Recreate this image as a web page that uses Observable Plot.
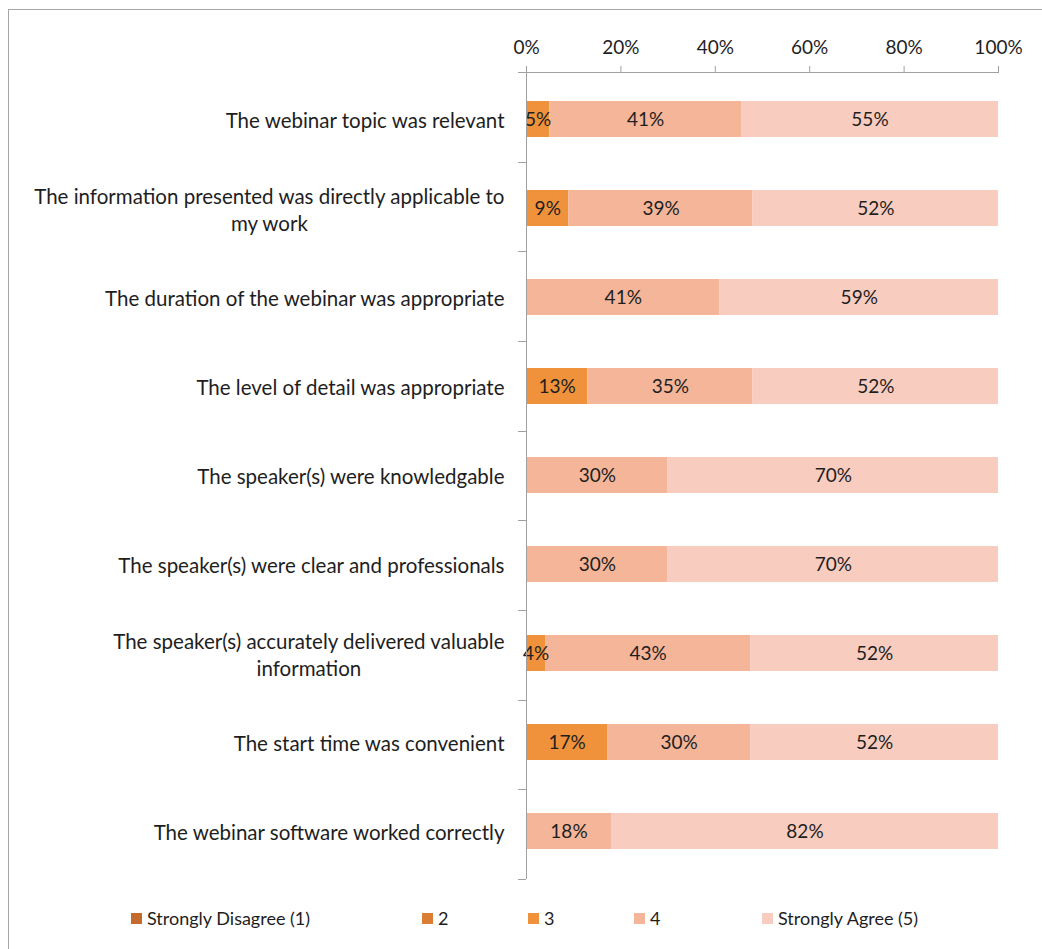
<!DOCTYPE html>
<html><head><meta charset="utf-8">
<script src="https://cdn.jsdelivr.net/npm/d3@7"></script>
<script src="https://cdn.jsdelivr.net/npm/@observablehq/plot@0.6"></script>
<style>
body{margin:0;background:#fff;font-family:Lato,sans-serif;width:1042px;height:949px;overflow:hidden;position:relative}
#frame{position:absolute;left:8px;top:9px;width:1100px;height:1000px;border-left:1px solid #a6a6a6;border-top:1px solid #a6a6a6}
#chart{position:absolute;left:0;top:0}
#legend{position:absolute;top:906px;left:0;width:1042px;height:24px;font-size:18px;color:#1e1e1e}
.item{position:absolute;top:0;display:flex;align-items:center;height:24px}
.sw{width:11px;height:11px;margin-right:5px}
</style></head><body>
<div id="frame"></div><div id="chart"></div><div id="legend"></div>
<script>
const statements = [
  "The webinar topic was relevant",
  "The information presented was directly applicable to\nmy work",
  "The duration of the webinar was appropriate",
  "The level of detail was appropriate",
  "The speaker(s) were knowledgable",
  "The speaker(s) were clear and professionals",
  "The speaker(s) accurately delivered valuable\ninformation",
  "The start time was convenient",
  "The webinar software worked correctly"
];
const levels = ["Strongly Disagree (1)", "2", "3", "4", "Strongly Agree (5)"];
const levelColors = ["#c46a2c", "#db7d35", "#f0923c", "#f4b599", "#f8cdc0"];
const pct1 = [0, 0, 0, 0, 0, 0, 0, 0, 0];
const pct2 = [0, 0, 0, 0, 0, 0, 0, 0, 0];
const pct3 = [5, 9, 0, 13, 0, 0, 4, 17, 0];
const pct4 = [41, 39, 41, 35, 30, 30, 43, 30, 18];
const pct5 = [55, 52, 59, 52, 70, 70, 52, 52, 82];
const xTicks = [0, 0.2, 0.4, 0.6, 0.8, 1];

const series = [pct1, pct2, pct3, pct4, pct5];
const data = [];
statements.forEach((s, i) => {
  levels.forEach((lv, j) => {
    const v = series[j][i];
    if (v > 0) data.push({statement: s, level: lv, value: v});
  });
});

function axisDecor(index, scales, values, dimensions) {
  const y = scales.y, x = scales.x;
  const [r0, r1] = y.range ? y.range() : [dimensions.marginTop, dimensions.height - dimensions.marginBottom];
  const n = y.domain().length;
  const step = (r1 - r0) / n;
  const x0 = x(0), x1 = x(1);
  const g = d3.create("svg:g").attr("stroke", "#a0a0a0").attr("fill", "none").attr("shape-rendering", "crispEdges");
  g.append("line").attr("x1", x0 + 0.5).attr("x2", x0 + 0.5).attr("y1", r0).attr("y2", r1);
  g.append("line").attr("x1", x0).attr("x2", x1 + 0.5).attr("y1", r0 + 0.5).attr("y2", r0 + 0.5);
  for (let k = 0; k <= n; k++) {
    const yy = Math.round(r0 + k * step) + 0.5;
    g.append("line").attr("x1", x0 - 8).attr("x2", x0).attr("y1", yy).attr("y2", yy);
  }
  return g.node();
}

const plot = Plot.plot({
  width: 1042,
  height: 885,
  marginLeft: 526,
  marginRight: 44,
  marginTop: 72,
  marginBottom: 6,
  style: {fontFamily: "Lato, sans-serif", fontSize: "19px", color: "#1e1e1e", background: "transparent", overflow: "visible"},
  x: {domain: [0, 1]},
  y: {domain: statements, paddingInner: 0.59, paddingOuter: 0.295},
  color: {domain: levels, range: levelColors},
  marks: [
    Plot.barX(data, Plot.stackX({x: "value", y: "statement", fill: "level", z: "level", offset: "normalize"})),
    Plot.text(data, Plot.stackX({x: "value", y: "statement", z: "level", offset: "normalize", text: d => d.value + "%", fill: "#1e1e1e", fontSize: 19})),
    Plot.axisX({anchor: "top", ticks: xTicks, tickFormat: d => Math.round(d * 100) + "%", tickSize: 7, tickPadding: 12, stroke: "#a0a0a0", fill: "#1e1e1e", fontSize: 19, label: null}),
    Plot.axisY({anchor: "left", tickSize: 0, tickPadding: 22, fill: "#1e1e1e", fontSize: 20.5, label: null, lineHeight: 1.32}),
    axisDecor
  ]
});
document.getElementById("chart").appendChild(plot);

// center multi-line category labels on their longest line (as in the reference)
plot.querySelectorAll("g[aria-label='y-axis tick label'] text").forEach(t => {
  const spans = t.querySelectorAll("tspan");
  if (spans.length > 1) {
    let w = 0;
    spans.forEach(s => { w = Math.max(w, s.getComputedTextLength()); });
    t.setAttribute("text-anchor", "middle");
    spans.forEach(s => s.setAttribute("x", (+s.getAttribute("x") || 0) - w / 2));
  }
});

const legendPos = [131, 422, 528, 634, 762];
const legend = document.getElementById("legend");
levels.forEach((lv, j) => {
  const item = document.createElement("div");
  item.className = "item";
  item.style.left = legendPos[j] + "px";
  item.innerHTML = `<span class="sw" style="background:${levelColors[j]}"></span><span>${lv}</span>`;
  legend.appendChild(item);
});
</script>
</body></html>
